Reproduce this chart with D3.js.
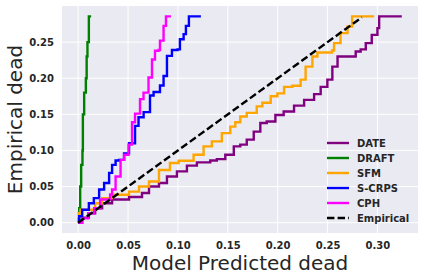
<!DOCTYPE html>
<html>
<head>
<meta charset="utf-8">
<script src="https://cdn.jsdelivr.net/npm/d3@7"></script>
<style>
  body { margin: 0; background: #fff; }
  svg { display: block; font-family: "DejaVu Sans", sans-serif; }
</style>
</head>
<body>
<svg id="chart"></svg>
<script>
// DATA
const xTicks = [0, 0.05, 0.10, 0.15, 0.20, 0.25, 0.30];
const yTicks = [0, 0.05, 0.10, 0.15, 0.20, 0.25];

const dateX = [0, 0.004, 0.0107, 0.017, 0.024, 0.034, 0.051, 0.064, 0.071, 0.081, 0.089, 0.099, 0.109, 0.119, 0.1324, 0.139, 0.1475, 0.156, 0.1625, 0.169, 0.176, 0.1826, 0.189, 0.1977, 0.206, 0.2164, 0.2265, 0.2365, 0.2431, 0.2498, 0.2548, 0.260, 0.2782, 0.2832, 0.2883, 0.2943, 0.300, 0.3017, 0.3244];
const dateY = [0, 0.007, 0.013, 0.020, 0.027, 0.032, 0.0355, 0.041, 0.050, 0.055, 0.064, 0.071, 0.079, 0.0835, 0.086, 0.088, 0.094, 0.1056, 0.108, 0.115, 0.126, 0.138, 0.140, 0.149, 0.154, 0.162, 0.170, 0.178, 0.188, 0.198, 0.216, 0.230, 0.237, 0.240, 0.2486, 0.260, 0.2694, 0.2857, 0.2857];

const draftX = [0, 0.0005, 0.001, 0.002, 0.003, 0.0043, 0.0047, 0.006, 0.0077, 0.0085, 0.0093, 0.0107, 0.013];
const draftY = [0, 0.005, 0.02, 0.05, 0.08, 0.10, 0.15, 0.18, 0.20, 0.23, 0.25, 0.2857, 0.2857];

const sfmX = [0, 0.0005, 0.0023, 0.017, 0.024, 0.034, 0.051, 0.061, 0.071, 0.081, 0.092, 0.1007, 0.1157, 0.1257, 0.134, 0.144, 0.1525, 0.1575, 0.1625, 0.169, 0.179, 0.1846, 0.193, 0.1997, 0.2064, 0.2147, 0.223, 0.228, 0.2348, 0.2398, 0.2545, 0.2565, 0.263, 0.27, 0.2746, 0.2967];
const sfmY = [0, 0.013, 0.018, 0.027, 0.034, 0.0387, 0.043, 0.050, 0.057, 0.073, 0.0826, 0.0858, 0.094, 0.1056, 0.1125, 0.124, 0.133, 0.139, 0.147, 0.152, 0.161, 0.166, 0.175, 0.179, 0.188, 0.1895, 0.198, 0.216, 0.230, 0.2356, 0.2384, 0.2486, 0.2625, 0.2716, 0.2857, 0.2857];

const scrpsX = [0, 0.001, 0.004, 0.0107, 0.0157, 0.021, 0.026, 0.031, 0.034, 0.0375, 0.041, 0.046, 0.051, 0.057, 0.0605, 0.0656, 0.072, 0.0756, 0.082, 0.0856, 0.089, 0.094, 0.0996, 0.102, 0.1057, 0.108, 0.111, 0.123];
const scrpsY = [0, 0.009, 0.018, 0.027, 0.034, 0.046, 0.055, 0.069, 0.080, 0.086, 0.087, 0.096, 0.110, 0.134, 0.146, 0.153, 0.176, 0.181, 0.190, 0.203, 0.231, 0.239, 0.240, 0.254, 0.261, 0.2725, 0.2857, 0.2857];

const cphX = [0, 0.004, 0.010, 0.016, 0.022, 0.032, 0.034, 0.0375, 0.0425, 0.046, 0.0505, 0.054, 0.057, 0.062, 0.0655, 0.0705, 0.074, 0.077, 0.0806, 0.082, 0.0856, 0.088, 0.093];
const cphY = [0, 0.006, 0.013, 0.020, 0.032, 0.039, 0.046, 0.064, 0.087, 0.094, 0.108, 0.139, 0.151, 0.171, 0.180, 0.201, 0.226, 0.238, 0.239, 0.252, 0.2725, 0.2857, 0.2857];

const empiricalX = [0, 0.2843];
const empiricalY = [0, 0.2843];

const seriesNames = ['DATE', 'DRAFT', 'SFM', 'S-CRPS', 'CPH', 'Empirical'];
const seriesColors = ['#800080', '#008000', '#ffa500', '#0000ff', '#ff00ff', '#000000'];
const seriesX = [dateX, draftX, sfmX, scrpsX, cphX, empiricalX];
const seriesY = [dateY, draftY, sfmY, scrpsY, cphY, empiricalY];

//SETUP
const width = 424, height = 280;
const margin = { top: 6, right: 6, bottom: 47, left: 62 };

const svg = d3.select('#chart').attr('width', width).attr('height', height);

const x = d3.scaleLinear()
  .domain([-0.01622, 0.34066])
  .range([margin.left, width - margin.right]);
const y = d3.scaleLinear()
  .domain([-0.01429, 0.3])
  .range([height - margin.bottom, margin.top]);

//BACKGROUND + GRID
svg.append('rect')
  .attr('x', margin.left).attr('y', margin.top)
  .attr('width', width - margin.left - margin.right)
  .attr('height', height - margin.top - margin.bottom)
  .attr('fill', '#eaeaf2');

const grid = svg.append('g').attr('stroke', '#fff').attr('stroke-width', 1);
grid.selectAll('.vg').data(xTicks).enter().append('line')
  .attr('x1', d => x(d)).attr('x2', d => x(d))
  .attr('y1', margin.top).attr('y2', height - margin.bottom);
grid.selectAll('.hg').data(yTicks).enter().append('line')
  .attr('y1', d => y(d)).attr('y2', d => y(d))
  .attr('x1', margin.left).attr('x2', width - margin.right);

//AXES
const xAxis = svg.append('g')
  .attr('transform', `translate(0,${height - margin.bottom})`)
  .call(d3.axisBottom(x).tickValues(xTicks).tickFormat(d3.format('.2f')).tickSize(0).tickPadding(9));
const yAxis = svg.append('g')
  .attr('transform', `translate(${margin.left},0)`)
  .call(d3.axisLeft(y).tickValues(yTicks).tickFormat(d3.format('.2f')).tickSize(0).tickPadding(8));
[xAxis, yAxis].forEach(a => {
  a.select('.domain').remove();
  a.selectAll('text')
    .attr('font-family', 'DejaVu Sans')
    .attr('font-size', 10)
    .attr('font-weight', 'bold')
    .attr('fill', '#262626');
});

svg.append('text')
  .attr('x', (margin.left + width - margin.right) / 2)
  .attr('y', 270)
  .attr('text-anchor', 'middle')
  .attr('font-size', 20)
  .attr('fill', '#262626')
  .text('Model Predicted dead');

svg.append('text')
  .attr('transform', `translate(22,${(margin.top + height - margin.bottom) / 2}) rotate(-90)`)
  .attr('text-anchor', 'middle')
  .attr('font-size', 20)
  .attr('fill', '#262626')
  .text('Empirical dead');

//LINES
svg.append('clipPath').attr('id', 'clip').append('rect')
  .attr('x', margin.left).attr('y', margin.top)
  .attr('width', width - margin.left - margin.right)
  .attr('height', height - margin.top - margin.bottom);

const stepLine = d3.line().x(d => x(d[0])).y(d => y(d[1])).curve(d3.curveStepAfter);
const straight = d3.line().x(d => x(d[0])).y(d => y(d[1]));

const lines = svg.append('g').attr('clip-path', 'url(#clip)');
seriesNames.forEach((name, i) => {
  const pts = seriesX[i].map((v, j) => [v, seriesY[i][j]]);
  const isEmp = name === 'Empirical';
  lines.append('path')
    .attr('d', isEmp ? straight(pts) : stepLine(pts))
    .attr('fill', 'none')
    .attr('stroke', seriesColors[i])
    .attr('stroke-width', 2.4)
    .attr('stroke-dasharray', isEmp ? '7.4,3.2' : null);
});

//LEGEND
const legend = svg.append('g').attr('transform', 'translate(327,143)');
seriesNames.forEach((name, i) => {
  const row = legend.append('g').attr('transform', `translate(0,${i * 15})`);
  row.append('line')
    .attr('x1', 0).attr('x2', 22)
    .attr('stroke', seriesColors[i])
    .attr('stroke-width', 2.4)
    .attr('stroke-dasharray', name === 'Empirical' ? '7.4,3.2' : null);
  row.append('text')
    .attr('x', 30).attr('y', 0).attr('dy', '0.35em')
    .attr('font-size', 10)
    .attr('font-weight', 'bold')
    .attr('fill', '#262626')
    .text(name);
});
</script>
</body>
</html>
